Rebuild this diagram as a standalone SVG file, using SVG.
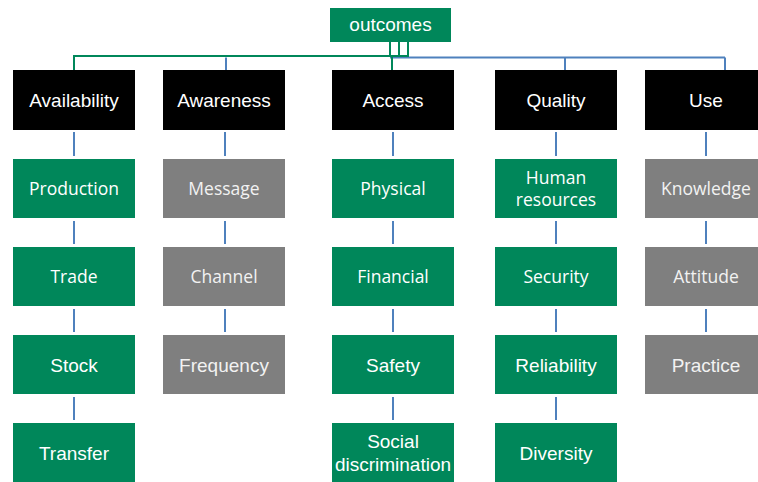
<svg xmlns="http://www.w3.org/2000/svg" width="758" height="482" viewBox="0 0 758 482">
<style>
.g{fill:#00875A}.k{fill:#000}.y{fill:#7F7F7F}
text{fill:#fff;font-size:19px;text-anchor:middle;font-family:"Liberation Sans",Arial,sans-serif}
text.s{font-family:"Open Sans","Liberation Sans",sans-serif;font-size:17.5px}
.yt{fill:#F2F2F2}
.cb{stroke:#4F81BD;stroke-width:2;fill:none}
.cg{stroke:#00875A;stroke-width:2;fill:none}
</style>
<rect width="758" height="482" fill="#fff"/>
<g id="connectors">
<path class="cb" d="M390 57.5H725M565 57.5V70M725 57.5V70M226 57.5V70"/>
<path class="cg" d="M390 42V57M399 42V57M408 42V57M74 70V56H408M392 56V70"/>
<path class="cb" d="M74 132V156M74 221V244M74 309V332M74 397V420M225 132V156M225 221V244M225 309V332M393 132V156M393 221V244M393 309V332M393 397V420M556 132V156M556 221V244M556 309V332M556 397V420M706 132V156M706 221V244M706 309V332"/>
</g>
<g id="outcomes"><rect class="g" x="330" y="8" width="121" height="34"/><text x="390.5" y="31">outcomes</text></g>
<g id="availability"><rect class="k" x="13" y="70" width="122" height="60"/><text x="74" y="107">Availability</text></g>
<g id="awareness"><rect class="k" x="163" y="70" width="122" height="60"/><text x="224" y="107">Awareness</text></g>
<g id="access"><rect class="k" x="332" y="70" width="122" height="60"/><text x="393" y="107">Access</text></g>
<g id="quality"><rect class="k" x="495" y="70" width="122" height="60"/><text x="556" y="107">Quality</text></g>
<g id="use"><rect class="k" x="645" y="70" width="122" height="60"/><text x="706" y="107">Use</text></g>
<g id="production"><rect class="g" x="13" y="159" width="122" height="59"/><text class="s" x="74" y="195">Production</text></g>
<g id="trade"><rect class="g" x="13" y="247" width="122" height="59"/><text class="s" x="74" y="283">Trade</text></g>
<g id="stock"><rect class="g" x="13" y="335" width="122" height="59"/><text x="74" y="372">Stock</text></g>
<g id="transfer"><rect class="g" x="13" y="423" width="122" height="59"/><text x="74" y="460">Transfer</text></g>
<g id="message"><rect class="y" x="163" y="159" width="122" height="59"/><text class="s yt" x="224" y="195">Message</text></g>
<g id="channel"><rect class="y" x="163" y="247" width="122" height="59"/><text class="s yt" x="224" y="283">Channel</text></g>
<g id="frequency"><rect class="y" x="163" y="335" width="122" height="59"/><text class="yt" x="224" y="372">Frequency</text></g>
<g id="physical"><rect class="g" x="332" y="159" width="122" height="59"/><text class="s" x="393" y="195">Physical</text></g>
<g id="financial"><rect class="g" x="332" y="247" width="122" height="59"/><text class="s" x="393" y="283">Financial</text></g>
<g id="safety"><rect class="g" x="332" y="335" width="122" height="59"/><text x="393" y="372">Safety</text></g>
<g id="social"><rect class="g" x="332" y="423" width="122" height="59"/><text x="393" y="448">Social</text><text x="393" y="471">discrimination</text></g>
<g id="human"><rect class="g" x="495" y="159" width="122" height="59"/><text class="s" x="556" y="184">Human</text><text class="s" x="556" y="206">resources</text></g>
<g id="security"><rect class="g" x="495" y="247" width="122" height="59"/><text class="s" x="556" y="283">Security</text></g>
<g id="reliability"><rect class="g" x="495" y="335" width="122" height="59"/><text x="556" y="372">Reliability</text></g>
<g id="diversity"><rect class="g" x="495" y="423" width="122" height="59"/><text x="556" y="460">Diversity</text></g>
<g id="knowledge"><rect class="y" x="645" y="159" width="122" height="59"/><text class="s yt" x="706" y="195">Knowledge</text></g>
<g id="attitude"><rect class="y" x="645" y="247" width="122" height="59"/><text class="s yt" x="706" y="283">Attitude</text></g>
<g id="practice"><rect class="y" x="645" y="335" width="122" height="59"/><text class="yt" x="706" y="372">Practice</text></g>
</svg>
